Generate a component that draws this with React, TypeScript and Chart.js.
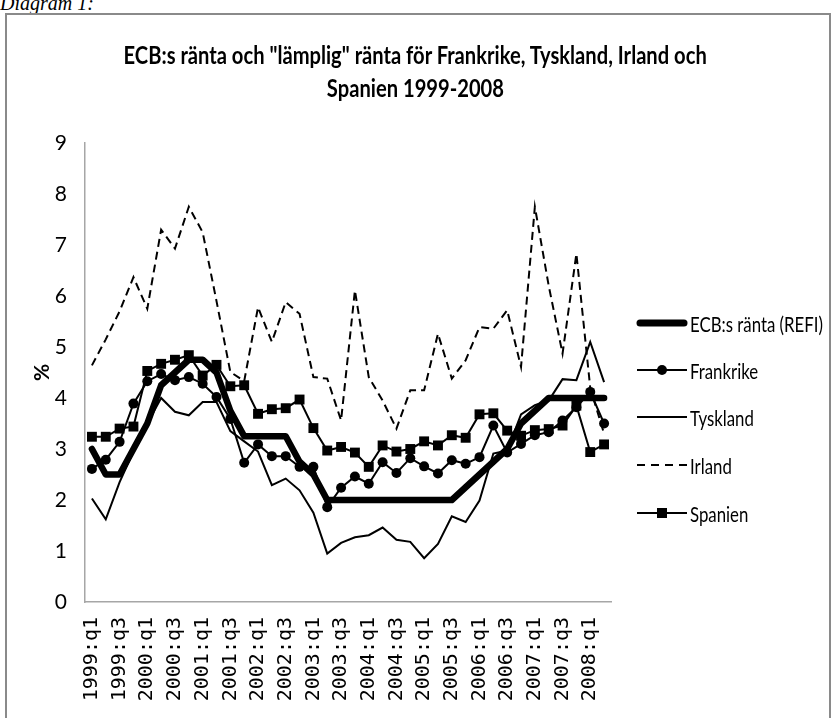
import React, { useEffect, useRef } from "react";
import { Chart, registerables } from "chart.js";

Chart.register(...registerables);

const quarters = [
  "1999:q1", "1999:q2", "1999:q3", "1999:q4",
  "2000:q1", "2000:q2", "2000:q3", "2000:q4",
  "2001:q1", "2001:q2", "2001:q3", "2001:q4",
  "2002:q1", "2002:q2", "2002:q3", "2002:q4",
  "2003:q1", "2003:q2", "2003:q3", "2003:q4",
  "2004:q1", "2004:q2", "2004:q3", "2004:q4",
  "2005:q1", "2005:q2", "2005:q3", "2005:q4",
  "2006:q1", "2006:q2", "2006:q3", "2006:q4",
  "2007:q1", "2007:q2", "2007:q3", "2007:q4",
  "2008:q1", "2008:q2",
];

const ecbRefi = [3.0, 2.5, 2.5, 3.0, 3.5, 4.25, 4.5, 4.75, 4.75, 4.5, 3.75, 3.25, 3.25, 3.25, 3.25, 2.75, 2.5, 2.0, 2.0, 2.0, 2.0, 2.0, 2.0, 2.0, 2.0, 2.0, 2.0, 2.25, 2.5, 2.75, 3.0, 3.5, 3.75, 4.0, 4.0, 4.0, 4.0, 4.0];
const frankrike = [2.61, 2.79, 3.14, 3.89, 4.33, 4.47, 4.35, 4.41, 4.28, 4.02, 3.59, 2.73, 3.09, 2.86, 2.86, 2.65, 2.65, 1.86, 2.24, 2.46, 2.32, 2.74, 2.53, 2.82, 2.66, 2.52, 2.78, 2.71, 2.84, 3.46, 2.93, 3.1, 3.27, 3.33, 3.56, 3.82, 4.12, 3.5];
const tyskland = [2.03, 1.62, 2.35, 2.95, 3.5, 4.0, 3.73, 3.66, 3.92, 3.92, 3.35, 3.15, 2.95, 2.29, 2.42, 2.19, 1.75, 0.95, 1.16, 1.27, 1.31, 1.46, 1.22, 1.18, 0.86, 1.14, 1.68, 1.57, 1.99, 2.91, 2.97, 3.68, 3.86, 3.95, 4.37, 4.35, 5.1, 4.31];
const irland = [4.64, 5.15, 5.7, 6.37, 5.75, 7.3, 6.93, 7.75, 7.25, 5.9, 4.51, 4.33, 5.78, 5.1, 5.88, 5.65, 4.41, 4.38, 3.56, 6.11, 4.41, 3.95, 3.4, 4.15, 4.15, 5.26, 4.38, 4.74, 5.39, 5.36, 5.72, 4.61, 7.75, 6.2, 4.87, 6.83, 4.2, 3.3];
const spanien = [3.24, 3.24, 3.4, 3.44, 4.53, 4.67, 4.75, 4.84, 4.44, 4.65, 4.23, 4.25, 3.69, 3.78, 3.8, 3.97, 3.41, 2.97, 3.04, 2.93, 2.65, 3.07, 2.95, 3.0, 3.15, 3.07, 3.27, 3.22, 3.68, 3.7, 3.36, 3.26, 3.37, 3.39, 3.46, 3.85, 2.94, 3.09];

const yTicks = [0, 1, 2, 3, 4, 5, 6, 7, 8, 9];

const titleLines = [
  'ECB:s ränta och "lämplig" ränta för Frankrike, Tyskland, Irland och',
  "Spanien 1999-2008",
];
const seriesNames = ["ECB:s ränta (REFI)", "Frankrike", "Tyskland", "Irland", "Spanien"];

const FONT = "Lato, 'Liberation Sans', sans-serif";
const MONO = "'DejaVu Sans Mono', monospace";

type Kind = "thick" | "circle" | "plain" | "dash" | "square";
const legendKinds: Kind[] = ["thick", "circle", "plain", "dash", "square"];

function Sample({ kind }: { kind: Kind }) {
  const y = 8;
  return (
    <svg width={52} height={16} style={{ display: "block" }}>
      {kind === "thick" && (
        <line x1={4} y1={y} x2={48} y2={y} stroke="#000" strokeWidth={7} strokeLinecap="round" />
      )}
      {kind !== "thick" && (
        <line
          x1={1}
          y1={y}
          x2={51}
          y2={y}
          stroke="#000"
          strokeWidth={2}
          strokeDasharray={kind === "dash" ? "8 6" : undefined}
        />
      )}
      {kind === "circle" && <circle cx={26} cy={y} r={5} fill="#000" />}
      {kind === "square" && <rect x={21} y={y - 5} width={10} height={10} fill="#000" />}
    </svg>
  );
}

export default function App() {
  const ref = useRef<HTMLCanvasElement | null>(null);

  useEffect(() => {
    if (!ref.current) return;
    const chart = new Chart(ref.current, {
      type: "line",
      data: {
        labels: quarters,
        datasets: [
          {
            label: seriesNames[0],
            data: ecbRefi,
            borderColor: "#000",
            backgroundColor: "#000",
            borderWidth: 6.5,
            borderCapStyle: "round",
            borderJoinStyle: "round",
            pointRadius: 0,
            order: 5,
          },
          {
            label: seriesNames[1],
            data: frankrike,
            borderColor: "#000",
            backgroundColor: "#000",
            borderWidth: 2,
            pointStyle: "circle",
            pointRadius: 5,
            pointBorderWidth: 0,
            pointBackgroundColor: "#000",
            order: 4,
          },
          {
            label: seriesNames[2],
            data: tyskland,
            borderColor: "#000",
            backgroundColor: "#000",
            borderWidth: 2,
            pointRadius: 0,
            order: 3,
          },
          {
            label: seriesNames[3],
            data: irland,
            borderColor: "#000",
            backgroundColor: "#000",
            borderWidth: 2,
            borderDash: [8, 5],
            pointRadius: 0,
            order: 2,
          },
          {
            label: seriesNames[4],
            data: spanien,
            borderColor: "#000",
            backgroundColor: "#000",
            borderWidth: 2,
            pointStyle: "rect",
            pointRadius: 7,
            pointBorderWidth: 0,
            pointBackgroundColor: "#000",
            order: 1,
          },
        ],
      },
      options: {
        responsive: false,
        animation: false,
        devicePixelRatio: 1,
        layout: { padding: { top: 143, left: 0, right: 0, bottom: 0 } },
        plugins: {
          legend: { display: false },
          tooltip: { enabled: false },
          title: { display: false },
        },
        scales: {
          x: {
            type: "category",
            offset: true,
            grid: { display: true, drawOnChartArea: false, drawTicks: false, color: "rgba(0,0,0,0)" },
            border: { display: true, color: "#a6a6a6", width: 1.5 },
            ticks: {
              autoSkip: false,
              maxRotation: 90,
              minRotation: 90,
              padding: 15,
              color: "#000",
              font: { family: MONO, size: 20 },
              callback: (_v: any, i: number) => (i % 2 === 0 ? quarters[i] : ""),
            },
            afterFit: (s: any) => {
              s.height = 116;
            },
          },
          y: {
            min: yTicks[0],
            max: yTicks[yTicks.length - 1],
            grid: { display: true, drawOnChartArea: false, drawTicks: false, color: "rgba(0,0,0,0)" },
            border: { display: true, color: "#a6a6a6", width: 1.5 },
            ticks: {
              stepSize: 1,
              padding: 18,
              color: "#000",
              font: { family: FONT, size: 21 },
            },
            title: {
              display: true,
              text: "%",
              color: "#000",
              font: { family: FONT, size: 21, weight: "bold" },
              padding: { top: 30, bottom: 0 },
            },
            afterFit: (s: any) => {
              s.width = 85;
            },
          },
          yPad: {
            position: "right",
            display: true,
            grid: { display: false, drawTicks: false },
            border: { display: false },
            ticks: { display: false },
            afterFit: (s: any) => {
              s.width = 220;
            },
          },
        },
      },
    } as any);
    return () => chart.destroy();
  }, []);

  const legendTops = [323, 370, 417, 465, 513];
  const titleCenters = [55, 88];

  return (
    <div
      style={{
        position: "absolute",
        left: 0,
        top: 0,
        width: 831,
        height: 718,
        overflow: "hidden",
        background: "#fff",
      }}
    >
      <div
        style={{
          position: "absolute",
          left: 0,
          top: -7,
          fontFamily: "'Liberation Serif', serif",
          fontStyle: "italic",
          fontSize: 20,
          lineHeight: "20px",
          whiteSpace: "nowrap",
        }}
      >
        Diagram 1:
      </div>
      <div
        style={{
          position: "absolute",
          left: 5,
          top: 13,
          width: 822,
          height: 800,
          border: "2px solid #8a8a8a",
        }}
      />
      <canvas
        ref={ref}
        width={831}
        height={718}
        style={{ position: "absolute", left: 0, top: 0, width: 831, height: 718 }}
      />
      {titleLines.map((line, i) => (
        <div
          key={line}
          style={{
            position: "absolute",
            left: 0,
            width: 831,
            top: titleCenters[i] - 15,
            height: 30,
            lineHeight: "30px",
            textAlign: "center",
            whiteSpace: "nowrap",
          }}
        >
          <span
            style={{
              display: "inline-block",
              fontFamily: FONT,
              fontWeight: "bold",
              fontSize: 24,
              transform: "scaleX(0.84)",
              transformOrigin: "center",
              color: "#000",
            }}
          >
            {line}
          </span>
        </div>
      ))}
      {seriesNames.map((name, i) => (
        <div
          key={name}
          style={{
            position: "absolute",
            left: 636,
            top: legendTops[i] - 12,
            height: 24,
            display: "flex",
            alignItems: "center",
            whiteSpace: "nowrap",
          }}
        >
          <Sample kind={legendKinds[i]} />
          <span
            style={{
              display: "inline-block",
              fontFamily: FONT,
              fontSize: 21,
              color: "#000",
              marginLeft: 2,
              transform: "scaleX(0.8)",
              transformOrigin: "left center",
            }}
          >
            {name}
          </span>
        </div>
      ))}
    </div>
  );
}
